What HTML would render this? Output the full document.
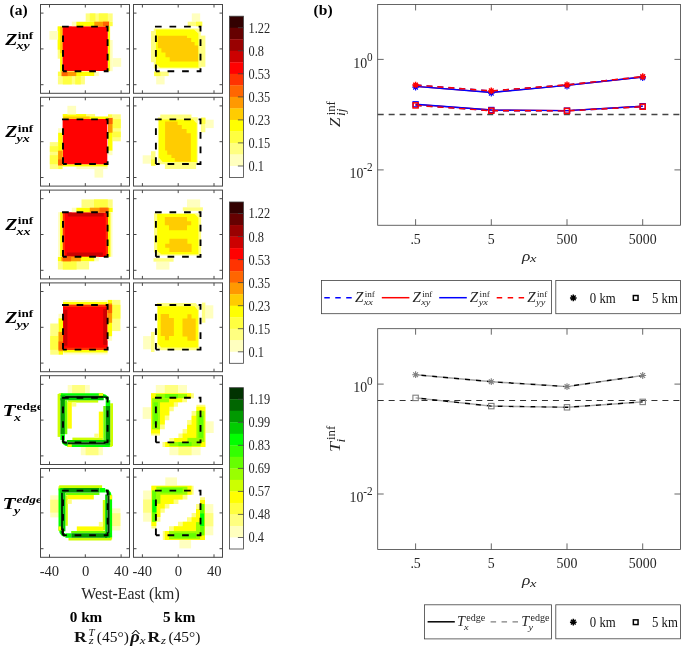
<!DOCTYPE html>
<html><head><meta charset="utf-8"><title>figure</title><style>html,body{margin:0;padding:0;background:#fff}body{width:685px;height:650px;overflow:hidden}</style></head><body>
<svg width="685" height="650" viewBox="0 0 685 650" style="display:block;font-family:'Liberation Serif',serif">
<defs><filter id="bl" x="-5%" y="-5%" width="110%" height="110%"><feGaussianBlur stdDeviation="0.65"/></filter></defs>
<rect width="685" height="650" fill="#fff"/>
<g opacity="0.999">
<g filter="url(#bl)">
<polygon fill="#FFFF80" points="57.7,26.4 60.4,26.4 60.4,58.7 57.7,58.7"/>
<polygon fill="#FFFF00" points="57.7,26.4 60.4,26.4 60.4,49.7 57.7,49.7"/>
<polygon fill="#FFFF00" points="60.1,26.4 62.6,26.4 62.6,71.8 60.1,71.8"/>
<polygon fill="#FFCC00" points="60.1,26.8 62.6,26.8 62.6,53.2 60.1,53.2"/>
<polygon fill="#FFFFBF" points="110.1,40.0 112.7,40.0 112.7,71.2 110.1,71.2"/>
<polygon fill="#FFFF00" points="107.8,26.2 110.1,26.2 110.1,71.2 107.8,71.2"/>
<polygon fill="#FF0000" points="62.6,26.2 107.8,26.2 107.8,70.9 62.6,70.9"/>
<polygon fill="#FFFF80" points="85.7,13.4 112.7,13.4 112.7,21.7 85.7,21.7"/>
<polygon fill="#FFFF80" points="84.9,84.4 57.9,84.4 57.9,76.1 84.9,76.1"/>
<polygon fill="#FFFF40" points="89.8,13.4 95.4,13.4 95.4,21.7 89.8,21.7"/>
<polygon fill="#FFFF40" points="80.8,84.4 75.2,84.4 75.2,76.1 80.8,76.1"/>
<polygon fill="#FFFF40" points="98.8,13.4 107.8,13.4 107.8,21.7 98.8,21.7"/>
<polygon fill="#FFFF40" points="71.8,84.4 62.8,84.4 62.8,76.1 71.8,76.1"/>
<polygon fill="#FFFFBF" points="71.8,21.7 76.3,21.7 76.3,26.2 71.8,26.2"/>
<polygon fill="#FFFFBF" points="98.8,76.1 94.3,76.1 94.3,71.6 98.8,71.6"/>
<polygon fill="#FFFF00" points="76.3,21.7 109.2,21.7 109.2,26.2 76.3,26.2"/>
<polygon fill="#FFFF00" points="94.3,76.1 61.4,76.1 61.4,71.6 94.3,71.6"/>
<polygon fill="#FF9900" points="94.3,21.7 109.2,21.7 109.2,26.2 94.3,26.2"/>
<polygon fill="#FF9900" points="76.3,76.1 61.4,76.1 61.4,71.6 76.3,71.6"/>
<polygon fill="#FF6600" points="103.0,21.7 109.2,21.7 109.2,26.2 103.0,26.2"/>
<polygon fill="#FF6600" points="67.6,76.1 61.4,76.1 61.4,71.6 67.6,71.6"/>
<polygon fill="#FFFF40" points="109.2,21.7 112.7,21.7 112.7,26.2 109.2,26.2"/>
<polygon fill="#FFFF40" points="61.4,76.1 57.9,76.1 57.9,71.6 61.4,71.6"/>
<polygon fill="#FFFFBF" points="49.4,31.0 58.1,31.0 58.1,39.7 49.4,39.7"/>
<polygon fill="#FFFFBF" points="121.2,66.8 112.5,66.8 112.5,58.1 121.2,58.1"/>
</g>
<path d="M63.0 71.2V26.6H107.6V71.2H63.0" fill="none" stroke="#000" stroke-width="1.9" stroke-dasharray="6.7 7.85"/>
<rect x="40.5" y="4.5" width="89.0" height="88.8" fill="none" stroke="#484848" stroke-width="1"/>
<path d="M49.5 4.5v3M49.5 93.3v-3M40.5 13.1h3M129.5 13.1h-3M85.3 4.5v3M85.3 93.3v-3M40.5 48.9h3M129.5 48.9h-3M121.1 4.5v3M121.1 93.3v-3M40.5 84.7h3M129.5 84.7h-3" stroke="#484848" stroke-width="1" fill="none"/>
<g filter="url(#bl)">
<polygon fill="#FFFF80" points="153.8,28.6 200.8,28.6 200.8,68.4 153.8,68.4"/>
<polygon fill="#FFFF00" points="155.8,29.6 193.9,29.6 198.4,33.4 198.4,67.4 160.0,67.4 155.8,63.5"/>
<polygon fill="#FFCC00" points="157.9,35.8 187.0,35.8 187.0,37.9 191.2,37.9 191.2,42.1 194.6,42.1 194.6,45.5 198.1,45.5 198.1,61.5 169.7,61.5 169.7,57.3 165.5,57.3 165.5,52.5 161.4,52.5 161.4,48.3 157.9,48.3"/>
<polygon fill="#FFFF80" points="151.0,31.0 155.8,31.0 155.8,62.2 151.0,62.2"/>
<polygon fill="#FFFF80" points="205.4,66.8 200.6,66.8 200.6,35.6 205.4,35.6"/>
<polygon fill="#FFFFBF" points="191.8,13.4 200.2,13.4 200.2,21.7 191.8,21.7"/>
<polygon fill="#FFFFBF" points="164.6,84.4 156.2,84.4 156.2,76.1 164.6,76.1"/>
<polygon fill="#FFFF80" points="187.7,21.7 202.2,21.7 202.2,26.2 187.7,26.2"/>
<polygon fill="#FFFF80" points="168.7,76.1 154.2,76.1 154.2,71.6 168.7,71.6"/>
<polygon fill="#FFFF40" points="196.0,21.7 202.2,21.7 202.2,26.2 196.0,26.2"/>
<polygon fill="#FFFF40" points="160.4,76.1 154.2,76.1 154.2,71.6 160.4,71.6"/>
</g>
<path d="M155.9 71.2V26.6H200.5V71.2H155.9" fill="none" stroke="#000" stroke-width="1.9" stroke-dasharray="6.7 7.85"/>
<rect x="133.5" y="4.5" width="89.0" height="88.8" fill="none" stroke="#484848" stroke-width="1"/>
<path d="M142.4 4.5v3M142.4 93.3v-3M133.5 13.1h3M222.5 13.1h-3M178.2 4.5v3M178.2 93.3v-3M133.5 48.9h3M222.5 48.9h-3M214.0 4.5v3M214.0 93.3v-3M133.5 84.7h3M222.5 84.7h-3" stroke="#484848" stroke-width="1" fill="none"/>
<g filter="url(#bl)">
<polygon fill="#FFFF80" points="62.8,114.1 62.8,116.8 95.1,116.8 95.1,114.1"/>
<polygon fill="#FFFF00" points="62.8,114.1 62.8,116.8 86.1,116.8 86.1,114.1"/>
<polygon fill="#FFFF00" points="62.8,116.5 62.8,119.0 108.2,119.0 108.2,116.5"/>
<polygon fill="#FFCC00" points="63.2,116.5 63.2,119.0 89.6,119.0 89.6,116.5"/>
<polygon fill="#FFFFBF" points="76.4,166.5 76.4,169.1 107.6,169.1 107.6,166.5"/>
<polygon fill="#FFFF00" points="62.6,164.2 62.6,166.5 107.6,166.5 107.6,164.2"/>
<polygon fill="#FF0000" points="62.6,119.0 62.6,164.2 107.3,164.2 107.3,119.0"/>
<polygon fill="#FFFF80" points="49.8,142.1 49.8,169.1 58.1,169.1 58.1,142.1"/>
<polygon fill="#FFFF80" points="120.8,141.3 120.8,114.3 112.5,114.3 112.5,141.3"/>
<polygon fill="#FFFF40" points="49.8,146.2 49.8,151.8 58.1,151.8 58.1,146.2"/>
<polygon fill="#FFFF40" points="120.8,137.2 120.8,131.6 112.5,131.6 112.5,137.2"/>
<polygon fill="#FFFF40" points="49.8,155.2 49.8,164.2 58.1,164.2 58.1,155.2"/>
<polygon fill="#FFFF40" points="120.8,128.2 120.8,119.2 112.5,119.2 112.5,128.2"/>
<polygon fill="#FFFFBF" points="58.1,128.2 58.1,132.7 62.6,132.7 62.6,128.2"/>
<polygon fill="#FFFFBF" points="112.5,155.2 112.5,150.7 108.0,150.7 108.0,155.2"/>
<polygon fill="#FFFF00" points="58.1,132.7 58.1,165.6 62.6,165.6 62.6,132.7"/>
<polygon fill="#FFFF00" points="112.5,150.7 112.5,117.8 108.0,117.8 108.0,150.7"/>
<polygon fill="#FF9900" points="58.1,150.7 58.1,165.6 62.6,165.6 62.6,150.7"/>
<polygon fill="#FF9900" points="112.5,132.7 112.5,117.8 108.0,117.8 108.0,132.7"/>
<polygon fill="#FF6600" points="58.1,159.4 58.1,165.6 62.6,165.6 62.6,159.4"/>
<polygon fill="#FF6600" points="112.5,124.0 112.5,117.8 108.0,117.8 108.0,124.0"/>
<polygon fill="#FFFF40" points="58.1,165.6 58.1,169.1 62.6,169.1 62.6,165.6"/>
<polygon fill="#FFFF40" points="112.5,117.8 112.5,114.3 108.0,114.3 108.0,117.8"/>
<polygon fill="#FFFFBF" points="67.4,105.8 67.4,114.5 76.1,114.5 76.1,105.8"/>
<polygon fill="#FFFFBF" points="103.2,177.6 103.2,168.9 94.5,168.9 94.5,177.6"/>
</g>
<path d="M63.0 164.0V119.4H107.6V164.0H63.0" fill="none" stroke="#000" stroke-width="1.9" stroke-dasharray="6.7 7.85"/>
<rect x="40.5" y="97.3" width="89.0" height="88.8" fill="none" stroke="#484848" stroke-width="1"/>
<path d="M49.5 97.3v3M49.5 186.1v-3M40.5 105.9h3M129.5 105.9h-3M85.3 97.3v3M85.3 186.1v-3M40.5 141.7h3M129.5 141.7h-3M121.1 97.3v3M121.1 186.1v-3M40.5 177.5h3M129.5 177.5h-3" stroke="#484848" stroke-width="1" fill="none"/>
<g filter="url(#bl)">
<polygon fill="#FFFF80" points="157.9,117.3 157.9,164.3 197.7,164.3 197.7,117.3"/>
<polygon fill="#FFFF00" points="158.9,119.3 158.9,157.4 162.7,161.9 196.7,161.9 196.7,123.5 192.8,119.3"/>
<polygon fill="#FFCC00" points="165.1,121.4 165.1,150.5 167.2,150.5 167.2,154.7 171.4,154.7 171.4,158.1 174.8,158.1 174.8,161.6 190.8,161.6 190.8,133.2 186.6,133.2 186.6,129.0 181.8,129.0 181.8,124.9 177.6,124.9 177.6,121.4"/>
<polygon fill="#FFFF80" points="160.3,114.5 160.3,119.3 191.5,119.3 191.5,114.5"/>
<polygon fill="#FFFF80" points="196.1,168.9 196.1,164.1 164.9,164.1 164.9,168.9"/>
<polygon fill="#FFFFBF" points="142.7,155.3 142.7,163.7 151.0,163.7 151.0,155.3"/>
<polygon fill="#FFFFBF" points="213.7,128.1 213.7,119.7 205.4,119.7 205.4,128.1"/>
<polygon fill="#FFFF80" points="151.0,151.2 151.0,165.7 155.5,165.7 155.5,151.2"/>
<polygon fill="#FFFF80" points="205.4,132.2 205.4,117.7 200.9,117.7 200.9,132.2"/>
<polygon fill="#FFFF40" points="151.0,159.5 151.0,165.7 155.5,165.7 155.5,159.5"/>
<polygon fill="#FFFF40" points="205.4,123.9 205.4,117.7 200.9,117.7 200.9,123.9"/>
</g>
<path d="M155.9 164.0V119.4H200.5V164.0H155.9" fill="none" stroke="#000" stroke-width="1.9" stroke-dasharray="6.7 7.85"/>
<rect x="133.5" y="97.3" width="89.0" height="88.8" fill="none" stroke="#484848" stroke-width="1"/>
<path d="M142.4 97.3v3M142.4 186.1v-3M133.5 105.9h3M222.5 105.9h-3M178.2 97.3v3M178.2 186.1v-3M133.5 141.7h3M222.5 141.7h-3M214.0 97.3v3M214.0 186.1v-3M133.5 177.5h3M222.5 177.5h-3" stroke="#484848" stroke-width="1" fill="none"/>
<g filter="url(#bl)">
<polygon fill="#FF0000" points="62.6,212.2 107.8,212.2 107.8,256.9 62.6,256.9"/>
<polygon fill="#CC0000" points="67.7,212.8 103.7,212.8 103.7,216.6 67.7,216.6"/>
<polygon fill="#CC0000" points="102.9,256.2 66.9,256.2 66.9,252.4 102.9,252.4"/>
<polygon fill="#FF3300" points="62.6,212.8 64.9,212.8 64.9,256.5 62.6,256.5"/>
<polygon fill="#FF3300" points="108.0,256.2 105.7,256.2 105.7,212.5 108.0,212.5"/>
<polygon fill="#FFFF80" points="81.5,199.4 112.7,199.4 112.7,207.7 81.5,207.7"/>
<polygon fill="#FFFF80" points="89.1,269.6 57.9,269.6 57.9,261.3 89.1,261.3"/>
<polygon fill="#FFFF40" points="94.0,199.4 107.8,199.4 107.8,207.7 94.0,207.7"/>
<polygon fill="#FFFF40" points="76.6,269.6 62.8,269.6 62.8,261.3 76.6,261.3"/>
<polygon fill="#FFFFBF" points="71.8,207.7 76.3,207.7 76.3,212.2 71.8,212.2"/>
<polygon fill="#FFFFBF" points="98.8,261.3 94.3,261.3 94.3,256.8 98.8,256.8"/>
<polygon fill="#FFFF00" points="76.3,207.7 112.7,207.7 112.7,212.2 76.3,212.2"/>
<polygon fill="#FFFF00" points="94.3,261.3 57.9,261.3 57.9,256.8 94.3,256.8"/>
<polygon fill="#FF9900" points="89.8,207.7 109.2,207.7 109.2,212.2 89.8,212.2"/>
<polygon fill="#FF9900" points="80.8,261.3 61.4,261.3 61.4,256.8 80.8,256.8"/>
<polygon fill="#FF6600" points="99.5,207.7 107.8,207.7 107.8,212.2 99.5,212.2"/>
<polygon fill="#FF6600" points="71.1,261.3 62.8,261.3 62.8,256.8 71.1,256.8"/>
<polygon fill="#FFFFBF" points="58.1,212.2 60.4,212.2 60.4,256.5 58.1,256.5"/>
<polygon fill="#FFFFBF" points="112.5,256.8 110.2,256.8 110.2,212.5 112.5,212.5"/>
<polygon fill="#FFFF00" points="60.1,212.2 62.6,212.2 62.6,256.5 60.1,256.5"/>
<polygon fill="#FFFF00" points="110.5,256.8 108.0,256.8 108.0,212.5 110.5,212.5"/>
</g>
<path d="M63.0 256.8V212.2H107.6V256.8H63.0" fill="none" stroke="#000" stroke-width="1.9" stroke-dasharray="6.7 7.85"/>
<rect x="40.5" y="190.1" width="89.0" height="88.8" fill="none" stroke="#484848" stroke-width="1"/>
<path d="M49.5 190.1v3M49.5 278.9v-3M40.5 198.7h3M129.5 198.7h-3M85.3 190.1v3M85.3 278.9v-3M40.5 234.5h3M129.5 234.5h-3M121.1 190.1v3M121.1 278.9v-3M40.5 270.3h3M129.5 270.3h-3" stroke="#484848" stroke-width="1" fill="none"/>
<g filter="url(#bl)">
<polygon fill="#FFFF80" points="154.0,213.3 197.8,213.3 201.1,216.6 201.1,255.4 157.6,255.4 154.0,252.0"/>
<polygon fill="#FFFF00" points="157.2,214.1 194.6,214.1 198.4,217.7 198.4,254.2 161.4,254.2 157.2,250.9"/>
<polygon fill="#FFCC00" points="164.8,217.0 187.0,217.0 187.0,221.2 191.2,221.2 191.2,225.3 187.0,225.3 187.0,230.2 169.0,230.2 169.0,225.3 164.8,225.3"/>
<polygon fill="#FFCC00" points="191.6,252.0 169.4,252.0 169.4,247.8 165.2,247.8 165.2,243.7 169.4,243.7 169.4,238.8 187.4,238.8 187.4,243.7 191.6,243.7"/>
<polygon fill="#FFFFBF" points="187.0,199.4 200.2,199.4 200.2,207.3 187.0,207.3"/>
<polygon fill="#FFFFBF" points="169.4,269.6 156.2,269.6 156.2,261.7 169.4,261.7"/>
<polygon fill="#FFFF80" points="182.8,207.3 202.9,207.3 202.9,210.8 182.8,210.8"/>
<polygon fill="#FFFF80" points="173.6,261.7 153.5,261.7 153.5,258.2 173.6,258.2"/>
</g>
<path d="M155.9 256.8V212.2H200.5V256.8H155.9" fill="none" stroke="#000" stroke-width="1.9" stroke-dasharray="6.7 7.85"/>
<rect x="133.5" y="190.1" width="89.0" height="88.8" fill="none" stroke="#484848" stroke-width="1"/>
<path d="M142.4 190.1v3M142.4 278.9v-3M133.5 198.7h3M222.5 198.7h-3M178.2 190.1v3M178.2 278.9v-3M133.5 234.5h3M222.5 234.5h-3M214.0 190.1v3M214.0 278.9v-3M133.5 270.3h3M222.5 270.3h-3" stroke="#484848" stroke-width="1" fill="none"/>
<g filter="url(#bl)">
<polygon fill="#FF0000" points="63.0,304.6 63.0,349.8 107.7,349.8 107.7,304.6"/>
<polygon fill="#CC0000" points="63.6,309.7 63.6,345.7 67.4,345.7 67.4,309.7"/>
<polygon fill="#CC0000" points="107.0,344.9 107.0,308.9 103.2,308.9 103.2,344.9"/>
<polygon fill="#FF3300" points="63.6,304.6 63.6,306.9 107.3,306.9 107.3,304.6"/>
<polygon fill="#FF3300" points="107.0,350.0 107.0,347.7 63.3,347.7 63.3,350.0"/>
<polygon fill="#FFFF80" points="50.2,323.5 50.2,354.7 58.5,354.7 58.5,323.5"/>
<polygon fill="#FFFF80" points="120.4,331.1 120.4,299.9 112.1,299.9 112.1,331.1"/>
<polygon fill="#FFFF40" points="50.2,336.0 50.2,349.8 58.5,349.8 58.5,336.0"/>
<polygon fill="#FFFF40" points="120.4,318.6 120.4,304.8 112.1,304.8 112.1,318.6"/>
<polygon fill="#FFFFBF" points="58.5,313.8 58.5,318.3 63.0,318.3 63.0,313.8"/>
<polygon fill="#FFFFBF" points="112.1,340.8 112.1,336.3 107.6,336.3 107.6,340.8"/>
<polygon fill="#FFFF00" points="58.5,318.3 58.5,354.7 63.0,354.7 63.0,318.3"/>
<polygon fill="#FFFF00" points="112.1,336.3 112.1,299.9 107.6,299.9 107.6,336.3"/>
<polygon fill="#FF9900" points="58.5,331.8 58.5,351.2 63.0,351.2 63.0,331.8"/>
<polygon fill="#FF9900" points="112.1,322.8 112.1,303.4 107.6,303.4 107.6,322.8"/>
<polygon fill="#FF6600" points="58.5,341.5 58.5,349.8 63.0,349.8 63.0,341.5"/>
<polygon fill="#FF6600" points="112.1,313.1 112.1,304.8 107.6,304.8 107.6,313.1"/>
<polygon fill="#FFFFBF" points="63.0,300.1 63.0,302.4 107.3,302.4 107.3,300.1"/>
<polygon fill="#FFFFBF" points="107.6,354.5 107.6,352.2 63.3,352.2 63.3,354.5"/>
<polygon fill="#FFFF00" points="63.0,302.1 63.0,304.6 107.3,304.6 107.3,302.1"/>
<polygon fill="#FFFF00" points="107.6,352.5 107.6,350.0 63.3,350.0 63.3,352.5"/>
</g>
<path d="M63.0 349.6V305.0H107.6V349.6H63.0" fill="none" stroke="#000" stroke-width="1.9" stroke-dasharray="6.7 7.85"/>
<rect x="40.5" y="282.9" width="89.0" height="88.8" fill="none" stroke="#484848" stroke-width="1"/>
<path d="M49.5 282.9v3M49.5 371.7v-3M40.5 291.5h3M129.5 291.5h-3M85.3 282.9v3M85.3 371.7v-3M40.5 327.3h3M129.5 327.3h-3M121.1 282.9v3M121.1 371.7v-3M40.5 363.1h3M129.5 363.1h-3" stroke="#484848" stroke-width="1" fill="none"/>
<g filter="url(#bl)">
<polygon fill="#FFFF80" points="157.0,303.1 157.0,346.9 160.3,350.2 199.1,350.2 199.1,306.7 195.7,303.1"/>
<polygon fill="#FFFF00" points="157.8,306.3 157.8,343.7 161.4,347.5 197.9,347.5 197.9,310.5 194.6,306.3"/>
<polygon fill="#FFCC00" points="160.7,313.9 160.7,336.1 164.9,336.1 164.9,340.3 169.0,340.3 169.0,336.1 173.9,336.1 173.9,318.1 169.0,318.1 169.0,313.9"/>
<polygon fill="#FFCC00" points="195.7,340.7 195.7,318.5 191.5,318.5 191.5,314.3 187.4,314.3 187.4,318.5 182.5,318.5 182.5,336.5 187.4,336.5 187.4,340.7"/>
<polygon fill="#FFFFBF" points="143.1,336.1 143.1,349.3 151.0,349.3 151.0,336.1"/>
<polygon fill="#FFFFBF" points="213.3,318.5 213.3,305.3 205.4,305.3 205.4,318.5"/>
<polygon fill="#FFFF80" points="151.0,331.9 151.0,352.0 154.5,352.0 154.5,331.9"/>
<polygon fill="#FFFF80" points="205.4,322.7 205.4,302.6 201.9,302.6 201.9,322.7"/>
</g>
<path d="M155.9 349.6V305.0H200.5V349.6H155.9" fill="none" stroke="#000" stroke-width="1.9" stroke-dasharray="6.7 7.85"/>
<rect x="133.5" y="282.9" width="89.0" height="88.8" fill="none" stroke="#484848" stroke-width="1"/>
<path d="M142.4 282.9v3M142.4 371.7v-3M133.5 291.5h3M222.5 291.5h-3M178.2 282.9v3M178.2 371.7v-3M133.5 327.3h3M222.5 327.3h-3M214.0 282.9v3M214.0 371.7v-3M133.5 363.1h3M222.5 363.1h-3" stroke="#484848" stroke-width="1" fill="none"/>
<g filter="url(#bl)">
<polygon fill="#FFFFBF" points="67.7,385.0 89.8,385.0 89.8,393.6 67.7,393.6"/>
<polygon fill="#FFFFBF" points="102.9,455.2 80.8,455.2 80.8,446.6 102.9,446.6"/>
<polygon fill="#FFFF80" points="72.1,385.0 85.0,385.0 85.0,393.6 72.1,393.6"/>
<polygon fill="#FFFF80" points="98.5,455.2 85.6,455.2 85.6,446.6 98.5,446.6"/>
<polygon fill="#CCFF00" points="58.7,393.3 62.8,393.3 62.8,395.7 58.7,395.7"/>
<polygon fill="#CCFF00" points="111.9,446.9 107.8,446.9 107.8,444.5 111.9,444.5"/>
<polygon fill="#00FF00" points="60.8,393.3 103.0,393.3 103.0,395.7 60.8,395.7"/>
<polygon fill="#00FF00" points="109.8,446.9 67.6,446.9 67.6,444.5 109.8,444.5"/>
<polygon fill="#CCFF00" points="67.7,400.2 98.2,400.2 98.2,402.6 67.7,402.6"/>
<polygon fill="#CCFF00" points="102.9,440.0 72.4,440.0 72.4,437.6 102.9,437.6"/>
<polygon fill="#00CC00" points="64.9,397.9 103.7,397.9 103.7,400.2 64.9,400.2"/>
<polygon fill="#00CC00" points="105.7,442.3 66.9,442.3 66.9,440.0 105.7,440.0"/>
<polygon fill="#003300" points="63.1,395.7 103.0,395.7 103.0,397.9 63.1,397.9"/>
<polygon fill="#003300" points="107.5,444.5 67.6,444.5 67.6,442.3 107.5,442.3"/>
<polygon fill="#FFFF00" points="98.8,393.3 103.4,393.3 103.4,395.7 98.8,395.7"/>
<polygon fill="#FFFF00" points="71.8,446.9 67.2,446.9 67.2,444.5 71.8,444.5"/>
<polygon fill="#00FF00" points="103.0,394.0 105.4,394.4 108.4,396.8 109.1,399.8 105.4,399.8 105.4,397.9 103.0,397.9"/>
<polygon fill="#00FF00" points="67.6,446.2 65.2,445.8 62.2,443.4 61.5,440.4 65.2,440.4 65.2,442.3 67.6,442.3"/>
<polygon fill="#006600" points="103.0,395.7 105.1,395.7 107.6,397.0 108.1,399.5 106.2,399.5 105.8,397.9 103.0,397.9"/>
<polygon fill="#006600" points="67.6,444.5 65.5,444.5 63.0,443.2 62.5,440.7 64.4,440.7 64.8,442.3 67.6,442.3"/>
<polygon fill="#CCFF00" points="57.6,394.0 60.4,394.0 60.4,436.9 57.6,436.9"/>
<polygon fill="#CCFF00" points="113.0,446.2 110.2,446.2 110.2,403.3 113.0,403.3"/>
<polygon fill="#00CC00" points="60.4,395.1 65.2,395.1 65.2,400.4 60.4,400.4"/>
<polygon fill="#00CC00" points="110.2,445.1 105.4,445.1 105.4,439.8 110.2,439.8"/>
<polygon fill="#FFFF80" points="72.1,402.3 76.3,402.3 76.3,406.6 72.1,406.6"/>
<polygon fill="#FFFF80" points="98.5,437.9 94.3,437.9 94.3,433.6 98.5,433.6"/>
<polygon fill="#FFFF00" points="67.3,402.3 71.8,402.3 71.8,428.6 67.3,428.6"/>
<polygon fill="#FFFF00" points="103.3,437.9 98.8,437.9 98.8,411.6 103.3,411.6"/>
<polygon fill="#66FF00" points="64.9,400.2 67.3,400.2 67.3,434.2 64.9,434.2"/>
<polygon fill="#66FF00" points="105.7,440.0 103.3,440.0 103.3,406.0 105.7,406.0"/>
<polygon fill="#009900" points="60.4,398.2 64.9,398.2 64.9,434.2 60.4,434.2"/>
<polygon fill="#009900" points="110.2,442.0 105.7,442.0 105.7,406.0 110.2,406.0"/>
<polygon fill="#00FF00" points="60.4,434.2 64.9,434.2 64.9,440.0 60.4,440.0"/>
<polygon fill="#00FF00" points="110.2,406.0 105.7,406.0 105.7,400.2 110.2,400.2"/>
</g>
<path d="M63.0 442.4V397.8H107.6V442.4H63.0" fill="none" stroke="#000" stroke-width="1.9" stroke-dasharray="6.7 7.85"/>
<rect x="40.5" y="375.7" width="89.0" height="88.8" fill="none" stroke="#484848" stroke-width="1"/>
<path d="M49.5 375.7v3M49.5 464.5v-3M40.5 384.3h3M129.5 384.3h-3M85.3 375.7v3M85.3 464.5v-3M40.5 420.1h3M129.5 420.1h-3M121.1 375.7v3M121.1 464.5v-3M40.5 455.9h3M129.5 455.9h-3" stroke="#484848" stroke-width="1" fill="none"/>
<g filter="url(#bl)">
<polygon fill="#FFFFBF" points="155.8,385.0 187.0,385.0 187.0,393.3 155.8,393.3"/>
<polygon fill="#FFFFBF" points="200.6,455.2 169.4,455.2 169.4,446.9 200.6,446.9"/>
<polygon fill="#FFFF80" points="164.8,385.0 178.0,385.0 178.0,393.3 164.8,393.3"/>
<polygon fill="#FFFF80" points="191.6,455.2 178.4,455.2 178.4,446.9 191.6,446.9"/>
<polygon fill="#FFFFBF" points="142.7,407.2 151.0,407.2 151.0,418.9 142.7,418.9"/>
<polygon fill="#FFFFBF" points="213.7,433.0 205.4,433.0 205.4,421.3 213.7,421.3"/>
<polygon fill="#FFFF80" points="151.0,393.3 193.9,393.3 193.9,398.2 187.0,398.2 187.0,402.3 178.0,402.3 178.0,406.7 173.8,406.7 173.8,411.3 169.3,411.3 169.3,420.3 164.8,420.3 164.8,429.3 160.0,429.3 160.0,435.5 151.0,435.5"/>
<polygon fill="#FFFF80" points="205.4,446.9 162.5,446.9 162.5,442.0 169.4,442.0 169.4,437.9 178.4,437.9 178.4,433.5 182.6,433.5 182.6,428.9 187.1,428.9 187.1,419.9 191.6,419.9 191.6,410.9 196.4,410.9 196.4,404.7 205.4,404.7"/>
<polygon fill="#FFFF00" points="151.0,393.3 191.2,393.3 191.2,398.2 182.2,398.2 182.2,402.3 173.8,402.3 173.8,406.7 169.3,406.7 169.3,415.5 164.8,415.5 164.8,424.5 160.0,424.5 160.0,433.5 151.0,433.5"/>
<polygon fill="#FFFF00" points="205.4,446.9 165.2,446.9 165.2,442.0 174.2,442.0 174.2,437.9 182.6,437.9 182.6,433.5 187.1,433.5 187.1,424.7 191.6,424.7 191.6,415.7 196.4,415.7 196.4,406.7 205.4,406.7"/>
<polygon fill="#99FF00" points="155.8,394.0 187.0,394.0 187.0,398.2 155.8,398.2"/>
<polygon fill="#99FF00" points="200.6,446.2 169.4,446.2 169.4,442.0 200.6,442.0"/>
<polygon fill="#66FF00" points="164.8,394.0 178.0,394.0 178.0,398.2 164.8,398.2"/>
<polygon fill="#66FF00" points="191.6,446.2 178.4,446.2 178.4,442.0 191.6,442.0"/>
<polygon fill="#99FF00" points="155.8,398.2 169.0,398.2 169.0,402.3 155.8,402.3"/>
<polygon fill="#99FF00" points="200.6,442.0 187.4,442.0 187.4,437.9 200.6,437.9"/>
<polygon fill="#99FF00" points="152.0,398.2 160.0,398.2 160.0,429.3 152.0,429.3"/>
<polygon fill="#99FF00" points="204.4,442.0 196.4,442.0 196.4,410.9 204.4,410.9"/>
<polygon fill="#66FF00" points="153.4,402.3 157.9,402.3 157.9,424.5 153.4,424.5"/>
<polygon fill="#66FF00" points="203.0,437.9 198.5,437.9 198.5,415.7 203.0,415.7"/>
</g>
<path d="M155.9 442.4V397.8H200.5V442.4H155.9" fill="none" stroke="#000" stroke-width="1.9" stroke-dasharray="6.7 7.85"/>
<rect x="133.5" y="375.7" width="89.0" height="88.8" fill="none" stroke="#484848" stroke-width="1"/>
<path d="M142.4 375.7v3M142.4 464.5v-3M133.5 384.3h3M222.5 384.3h-3M178.2 375.7v3M178.2 464.5v-3M133.5 420.1h3M222.5 420.1h-3M214.0 375.7v3M214.0 464.5v-3M133.5 455.9h3M222.5 455.9h-3" stroke="#484848" stroke-width="1" fill="none"/>
<g filter="url(#bl)">
<polygon fill="#FFFFBF" points="50.2,495.3 50.2,517.4 58.8,517.4 58.8,495.3"/>
<polygon fill="#FFFFBF" points="120.4,530.5 120.4,508.4 111.8,508.4 111.8,530.5"/>
<polygon fill="#FFFF80" points="50.2,499.7 50.2,512.6 58.8,512.6 58.8,499.7"/>
<polygon fill="#FFFF80" points="120.4,526.1 120.4,513.2 111.8,513.2 111.8,526.1"/>
<polygon fill="#CCFF00" points="58.5,486.3 58.5,490.4 60.9,490.4 60.9,486.3"/>
<polygon fill="#CCFF00" points="112.1,539.5 112.1,535.4 109.7,535.4 109.7,539.5"/>
<polygon fill="#00FF00" points="58.5,488.4 58.5,530.6 60.9,530.6 60.9,488.4"/>
<polygon fill="#00FF00" points="112.1,537.4 112.1,495.2 109.7,495.2 109.7,537.4"/>
<polygon fill="#CCFF00" points="65.4,495.3 65.4,525.8 67.8,525.8 67.8,495.3"/>
<polygon fill="#CCFF00" points="105.2,530.5 105.2,500.0 102.8,500.0 102.8,530.5"/>
<polygon fill="#00CC00" points="63.1,492.5 63.1,531.3 65.4,531.3 65.4,492.5"/>
<polygon fill="#00CC00" points="107.5,533.3 107.5,494.5 105.2,494.5 105.2,533.3"/>
<polygon fill="#003300" points="60.9,490.7 60.9,530.6 63.1,530.6 63.1,490.7"/>
<polygon fill="#003300" points="109.7,535.1 109.7,495.2 107.5,495.2 107.5,535.1"/>
<polygon fill="#FFFF00" points="58.5,526.4 58.5,531.0 60.9,531.0 60.9,526.4"/>
<polygon fill="#FFFF00" points="112.1,499.4 112.1,494.8 109.7,494.8 109.7,499.4"/>
<polygon fill="#00FF00" points="59.2,530.6 59.6,533.0 62.0,536.0 65.0,536.7 65.0,533.0 63.1,533.0 63.1,530.6"/>
<polygon fill="#00FF00" points="111.4,495.2 111.0,492.8 108.6,489.8 105.6,489.1 105.6,492.8 107.5,492.8 107.5,495.2"/>
<polygon fill="#006600" points="60.9,530.6 60.9,532.7 62.2,535.2 64.7,535.7 64.7,533.8 63.1,533.4 63.1,530.6"/>
<polygon fill="#006600" points="109.7,495.2 109.7,493.1 108.4,490.6 105.9,490.1 105.9,492.0 107.5,492.4 107.5,495.2"/>
<polygon fill="#CCFF00" points="59.2,485.2 59.2,488.0 102.1,488.0 102.1,485.2"/>
<polygon fill="#CCFF00" points="111.4,540.6 111.4,537.8 68.5,537.8 68.5,540.6"/>
<polygon fill="#00CC00" points="60.3,488.0 60.3,492.8 65.6,492.8 65.6,488.0"/>
<polygon fill="#00CC00" points="110.3,537.8 110.3,533.0 105.0,533.0 105.0,537.8"/>
<polygon fill="#FFFF80" points="67.5,499.7 67.5,503.9 71.8,503.9 71.8,499.7"/>
<polygon fill="#FFFF80" points="103.1,526.1 103.1,521.9 98.8,521.9 98.8,526.1"/>
<polygon fill="#FFFF00" points="67.5,494.9 67.5,499.4 93.8,499.4 93.8,494.9"/>
<polygon fill="#FFFF00" points="103.1,530.9 103.1,526.4 76.8,526.4 76.8,530.9"/>
<polygon fill="#66FF00" points="65.4,492.5 65.4,494.9 99.4,494.9 99.4,492.5"/>
<polygon fill="#66FF00" points="105.2,533.3 105.2,530.9 71.2,530.9 71.2,533.3"/>
<polygon fill="#009900" points="63.4,488.0 63.4,492.5 99.4,492.5 99.4,488.0"/>
<polygon fill="#009900" points="107.2,537.8 107.2,533.3 71.2,533.3 71.2,537.8"/>
<polygon fill="#00FF00" points="99.4,488.0 99.4,492.5 105.2,492.5 105.2,488.0"/>
<polygon fill="#00FF00" points="71.2,537.8 71.2,533.3 65.4,533.3 65.4,537.8"/>
</g>
<path d="M63.0 535.2V490.6H107.6V535.2H63.0" fill="none" stroke="#000" stroke-width="1.9" stroke-dasharray="6.7 7.85"/>
<rect x="40.5" y="468.5" width="89.0" height="88.8" fill="none" stroke="#484848" stroke-width="1"/>
<path d="M49.5 468.5v3M49.5 557.3v-3M40.5 477.1h3M129.5 477.1h-3M85.3 468.5v3M85.3 557.3v-3M40.5 512.9h3M129.5 512.9h-3M121.1 468.5v3M121.1 557.3v-3M40.5 548.7h3M129.5 548.7h-3" stroke="#484848" stroke-width="1" fill="none"/>
<g filter="url(#bl)">
<polygon fill="#FFFFBF" points="143.1,490.5 143.1,521.7 151.4,521.7 151.4,490.5"/>
<polygon fill="#FFFFBF" points="213.3,535.3 213.3,504.1 205.0,504.1 205.0,535.3"/>
<polygon fill="#FFFF80" points="143.1,499.5 143.1,512.7 151.4,512.7 151.4,499.5"/>
<polygon fill="#FFFF80" points="213.3,526.3 213.3,513.1 205.0,513.1 205.0,526.3"/>
<polygon fill="#FFFFBF" points="165.3,477.4 165.3,485.7 177.0,485.7 177.0,477.4"/>
<polygon fill="#FFFFBF" points="191.1,548.4 191.1,540.1 179.4,540.1 179.4,548.4"/>
<polygon fill="#FFFF80" points="151.4,485.7 151.4,528.6 156.3,528.6 156.3,521.7 160.4,521.7 160.4,512.7 164.8,512.7 164.8,508.5 169.4,508.5 169.4,504.0 178.4,504.0 178.4,499.5 187.4,499.5 187.4,494.7 193.6,494.7 193.6,485.7"/>
<polygon fill="#FFFF80" points="205.0,540.1 205.0,497.2 200.1,497.2 200.1,504.1 196.0,504.1 196.0,513.1 191.6,513.1 191.6,517.3 187.0,517.3 187.0,521.8 178.0,521.8 178.0,526.3 169.0,526.3 169.0,531.1 162.8,531.1 162.8,540.1"/>
<polygon fill="#FFFF00" points="151.4,485.7 151.4,525.9 156.3,525.9 156.3,516.9 160.4,516.9 160.4,508.5 164.8,508.5 164.8,504.0 173.6,504.0 173.6,499.5 182.6,499.5 182.6,494.7 191.6,494.7 191.6,485.7"/>
<polygon fill="#FFFF00" points="205.0,540.1 205.0,499.9 200.1,499.9 200.1,508.9 196.0,508.9 196.0,517.3 191.6,517.3 191.6,521.8 182.8,521.8 182.8,526.3 173.8,526.3 173.8,531.1 164.8,531.1 164.8,540.1"/>
<polygon fill="#99FF00" points="152.1,490.5 152.1,521.7 156.3,521.7 156.3,490.5"/>
<polygon fill="#99FF00" points="204.3,535.3 204.3,504.1 200.1,504.1 200.1,535.3"/>
<polygon fill="#66FF00" points="152.1,499.5 152.1,512.7 156.3,512.7 156.3,499.5"/>
<polygon fill="#66FF00" points="204.3,526.3 204.3,513.1 200.1,513.1 200.1,526.3"/>
<polygon fill="#99FF00" points="156.3,490.5 156.3,503.7 160.4,503.7 160.4,490.5"/>
<polygon fill="#99FF00" points="200.1,535.3 200.1,522.1 196.0,522.1 196.0,535.3"/>
<polygon fill="#99FF00" points="156.3,486.7 156.3,494.7 187.4,494.7 187.4,486.7"/>
<polygon fill="#99FF00" points="200.1,539.1 200.1,531.1 169.0,531.1 169.0,539.1"/>
<polygon fill="#66FF00" points="160.4,488.1 160.4,492.6 182.6,492.6 182.6,488.1"/>
<polygon fill="#66FF00" points="196.0,537.7 196.0,533.2 173.8,533.2 173.8,537.7"/>
<polygon fill="#66FF00" points="152.1,490.5 152.1,521.7 156.3,521.7 156.3,490.5"/>
<polygon fill="#66FF00" points="204.3,535.3 204.3,504.1 200.1,504.1 200.1,535.3"/>
<polygon fill="#00FF00" points="152.4,499.8 152.4,512.3 156.3,512.3 156.3,499.8"/>
<polygon fill="#00FF00" points="204.0,526.0 204.0,513.5 200.1,513.5 200.1,526.0"/>
</g>
<path d="M155.9 535.2V490.6H200.5V535.2H155.9" fill="none" stroke="#000" stroke-width="1.9" stroke-dasharray="6.7 7.85"/>
<rect x="133.5" y="468.5" width="89.0" height="88.8" fill="none" stroke="#484848" stroke-width="1"/>
<path d="M142.4 468.5v3M142.4 557.3v-3M133.5 477.1h3M222.5 477.1h-3M178.2 468.5v3M178.2 557.3v-3M133.5 512.9h3M222.5 512.9h-3M214.0 468.5v3M214.0 557.3v-3M133.5 548.7h3M222.5 548.7h-3" stroke="#484848" stroke-width="1" fill="none"/>
<text x="49.4" y="576.3" font-size="14.6" text-anchor="middle" fill="#262626">-40</text>
<text x="85.6" y="576.3" font-size="14.6" text-anchor="middle" fill="#262626">0</text>
<text x="121.4" y="576.3" font-size="14.6" text-anchor="middle" fill="#262626">40</text>
<text x="142.3" y="576.3" font-size="14.6" text-anchor="middle" fill="#262626">-40</text>
<text x="178.5" y="576.3" font-size="14.6" text-anchor="middle" fill="#262626">0</text>
<text x="214.3" y="576.3" font-size="14.6" text-anchor="middle" fill="#262626">40</text>
<text x="130.5" y="598.9" font-size="15.8" text-anchor="middle" fill="#262626">West-East (km)</text>
<text x="86.0" y="621.7" font-size="15.2" font-weight="bold" text-anchor="middle" fill="#000">0 km</text>
<text x="179.2" y="621.7" font-size="15.2" font-weight="bold" text-anchor="middle" fill="#000">5 km</text>
<text transform="translate(74.0 642.0) scale(1.14 1.0)" font-size="15.5" font-weight="bold" fill="#111">R</text>
<text transform="translate(88.6 635.8) scale(1.05 1.0)" font-size="10.5" font-style="italic" fill="#111">T</text>
<text transform="translate(88.8 644.4) scale(1.2 1.0)" font-size="10.5" font-style="italic" fill="#111">z</text>
<text x="96.8" y="642.0" font-size="15.5" fill="#111">(45°)</text>
<text transform="translate(130.2 642.0) scale(1.15 1.0)" font-size="16" font-weight="bold" font-style="italic" fill="#111">ρ</text>
<text transform="translate(135.6 636.4) scale(1.45 0.62)" font-size="13" font-weight="bold" text-anchor="middle" fill="#111">^</text>
<text transform="translate(139.8 644.4) scale(1.25 1.0)" font-size="10.5" font-style="italic" fill="#111">x</text>
<text transform="translate(147.4 642.0) scale(1.14 1.0)" font-size="15.5" font-weight="bold" fill="#111">R</text>
<text transform="translate(161.0 644.4) scale(1.2 1.0)" font-size="10.5" font-style="italic" fill="#111">z</text>
<text x="168.4" y="642.0" font-size="15.5" fill="#111">(45°)</text>
<text x="9.6" y="15.0" font-size="15.5" font-weight="bold" fill="#000">(a)</text>
<text x="313.6" y="15.0" font-size="15.5" font-weight="bold" fill="#000">(b)</text>
<text transform="translate(5.3 44.6) scale(1.2 1.0)" font-size="16.5" font-weight="bold" font-style="italic" fill="#000">Z</text>
<text transform="translate(17.8 38.8) scale(1.22 1.0)" font-size="10.8" font-weight="bold" fill="#000">inf</text>
<text transform="translate(16.6 49.2) scale(1.32 1.0)" font-size="10.6" font-weight="bold" font-style="italic" fill="#000">xy</text>
<text transform="translate(5.3 137.4) scale(1.2 1.0)" font-size="16.5" font-weight="bold" font-style="italic" fill="#000">Z</text>
<text transform="translate(17.8 131.6) scale(1.22 1.0)" font-size="10.8" font-weight="bold" fill="#000">inf</text>
<text transform="translate(16.6 142.0) scale(1.32 1.0)" font-size="10.6" font-weight="bold" font-style="italic" fill="#000">yx</text>
<text transform="translate(5.3 230.2) scale(1.2 1.0)" font-size="16.5" font-weight="bold" font-style="italic" fill="#000">Z</text>
<text transform="translate(17.8 224.4) scale(1.22 1.0)" font-size="10.8" font-weight="bold" fill="#000">inf</text>
<text transform="translate(16.6 234.8) scale(1.32 1.0)" font-size="10.6" font-weight="bold" font-style="italic" fill="#000">xx</text>
<text transform="translate(5.3 323.0) scale(1.2 1.0)" font-size="16.5" font-weight="bold" font-style="italic" fill="#000">Z</text>
<text transform="translate(17.8 317.2) scale(1.22 1.0)" font-size="10.8" font-weight="bold" fill="#000">inf</text>
<text transform="translate(16.6 327.6) scale(1.32 1.0)" font-size="10.6" font-weight="bold" font-style="italic" fill="#000">yy</text>
<clipPath id="cl"><rect x="0" y="380" width="40.3" height="180"/></clipPath>
<g clip-path="url(#cl)">
<text transform="translate(2.6 415.8) scale(1.3 1.0)" font-size="16.5" font-weight="bold" font-style="italic" fill="#000">T</text>
<text transform="translate(16.6 409.8) scale(1.3 1.0)" font-size="10.3" font-weight="bold" fill="#000">edge</text>
<text transform="translate(14.0 420.7) scale(1.32 1.0)" font-size="10.6" font-weight="bold" font-style="italic" fill="#000">x</text>
<text transform="translate(2.6 508.6) scale(1.3 1.0)" font-size="16.5" font-weight="bold" font-style="italic" fill="#000">T</text>
<text transform="translate(16.6 502.6) scale(1.3 1.0)" font-size="10.3" font-weight="bold" font-style="italic" fill="#000">edge</text>
<text transform="translate(14.0 513.5) scale(1.32 1.0)" font-size="10.6" font-weight="bold" font-style="italic" fill="#000">y</text>
</g>
<rect x="229.4" y="16.20" width="14.0" height="11.82" fill="#330000"/>
<rect x="229.4" y="27.72" width="14.0" height="11.82" fill="#660000"/>
<rect x="229.4" y="39.24" width="14.0" height="11.82" fill="#990000"/>
<rect x="229.4" y="50.76" width="14.0" height="11.82" fill="#CC0000"/>
<rect x="229.4" y="62.29" width="14.0" height="11.82" fill="#FF0000"/>
<rect x="229.4" y="73.81" width="14.0" height="11.82" fill="#FF3300"/>
<rect x="229.4" y="85.33" width="14.0" height="11.82" fill="#FF6600"/>
<rect x="229.4" y="96.85" width="14.0" height="11.82" fill="#FF9900"/>
<rect x="229.4" y="108.37" width="14.0" height="11.82" fill="#FFCC00"/>
<rect x="229.4" y="119.89" width="14.0" height="11.82" fill="#FFFF00"/>
<rect x="229.4" y="131.41" width="14.0" height="11.82" fill="#FFFF40"/>
<rect x="229.4" y="142.94" width="14.0" height="11.82" fill="#FFFF80"/>
<rect x="229.4" y="154.46" width="14.0" height="11.82" fill="#FFFFBF"/>
<rect x="229.4" y="165.98" width="14.0" height="11.82" fill="#FFFFFF"/>
<rect x="229.4" y="16.2" width="14.0" height="161.3" fill="none" stroke="#404040" stroke-width="0.8"/>
<text transform="translate(248.6 32.6) scale(0.87 1.0)" font-size="14.2" fill="#262626">1.22</text>
<text transform="translate(248.6 55.7) scale(0.87 1.0)" font-size="14.2" fill="#262626">0.8</text>
<text transform="translate(248.6 78.7) scale(0.87 1.0)" font-size="14.2" fill="#262626">0.53</text>
<text transform="translate(248.6 101.8) scale(0.87 1.0)" font-size="14.2" fill="#262626">0.35</text>
<text transform="translate(248.6 124.8) scale(0.87 1.0)" font-size="14.2" fill="#262626">0.23</text>
<text transform="translate(248.6 147.8) scale(0.87 1.0)" font-size="14.2" fill="#262626">0.15</text>
<text transform="translate(248.6 170.9) scale(0.87 1.0)" font-size="14.2" fill="#262626">0.1</text>
<path d="M243.4 27.7h-5.5M243.4 50.8h-5.5M243.4 73.8h-5.5M243.4 96.9h-5.5M243.4 119.9h-5.5M243.4 142.9h-5.5M243.4 166.0h-5.5" stroke="#404040" stroke-width="0.8"/>
<rect x="229.4" y="202.00" width="14.0" height="11.82" fill="#330000"/>
<rect x="229.4" y="213.52" width="14.0" height="11.82" fill="#660000"/>
<rect x="229.4" y="225.04" width="14.0" height="11.82" fill="#990000"/>
<rect x="229.4" y="236.56" width="14.0" height="11.82" fill="#CC0000"/>
<rect x="229.4" y="248.09" width="14.0" height="11.82" fill="#FF0000"/>
<rect x="229.4" y="259.61" width="14.0" height="11.82" fill="#FF3300"/>
<rect x="229.4" y="271.13" width="14.0" height="11.82" fill="#FF6600"/>
<rect x="229.4" y="282.65" width="14.0" height="11.82" fill="#FF9900"/>
<rect x="229.4" y="294.17" width="14.0" height="11.82" fill="#FFCC00"/>
<rect x="229.4" y="305.69" width="14.0" height="11.82" fill="#FFFF00"/>
<rect x="229.4" y="317.21" width="14.0" height="11.82" fill="#FFFF40"/>
<rect x="229.4" y="328.74" width="14.0" height="11.82" fill="#FFFF80"/>
<rect x="229.4" y="340.26" width="14.0" height="11.82" fill="#FFFFBF"/>
<rect x="229.4" y="351.78" width="14.0" height="11.82" fill="#FFFFFF"/>
<rect x="229.4" y="202.0" width="14.0" height="161.3" fill="none" stroke="#404040" stroke-width="0.8"/>
<text transform="translate(248.6 218.4) scale(0.87 1.0)" font-size="14.2" fill="#262626">1.22</text>
<text transform="translate(248.6 241.5) scale(0.87 1.0)" font-size="14.2" fill="#262626">0.8</text>
<text transform="translate(248.6 264.5) scale(0.87 1.0)" font-size="14.2" fill="#262626">0.53</text>
<text transform="translate(248.6 287.5) scale(0.87 1.0)" font-size="14.2" fill="#262626">0.35</text>
<text transform="translate(248.6 310.6) scale(0.87 1.0)" font-size="14.2" fill="#262626">0.23</text>
<text transform="translate(248.6 333.6) scale(0.87 1.0)" font-size="14.2" fill="#262626">0.15</text>
<text transform="translate(248.6 356.7) scale(0.87 1.0)" font-size="14.2" fill="#262626">0.1</text>
<path d="M243.4 213.5h-5.5M243.4 236.6h-5.5M243.4 259.6h-5.5M243.4 282.6h-5.5M243.4 305.7h-5.5M243.4 328.7h-5.5M243.4 351.8h-5.5" stroke="#404040" stroke-width="0.8"/>
<rect x="229.4" y="387.70" width="14.0" height="11.82" fill="#003300"/>
<rect x="229.4" y="399.22" width="14.0" height="11.82" fill="#006600"/>
<rect x="229.4" y="410.74" width="14.0" height="11.82" fill="#009900"/>
<rect x="229.4" y="422.26" width="14.0" height="11.82" fill="#00CC00"/>
<rect x="229.4" y="433.79" width="14.0" height="11.82" fill="#00FF00"/>
<rect x="229.4" y="445.31" width="14.0" height="11.82" fill="#33FF00"/>
<rect x="229.4" y="456.83" width="14.0" height="11.82" fill="#66FF00"/>
<rect x="229.4" y="468.35" width="14.0" height="11.82" fill="#99FF00"/>
<rect x="229.4" y="479.87" width="14.0" height="11.82" fill="#CCFF00"/>
<rect x="229.4" y="491.39" width="14.0" height="11.82" fill="#FFFF00"/>
<rect x="229.4" y="502.91" width="14.0" height="11.82" fill="#FFFF40"/>
<rect x="229.4" y="514.44" width="14.0" height="11.82" fill="#FFFF80"/>
<rect x="229.4" y="525.96" width="14.0" height="11.82" fill="#FFFFBF"/>
<rect x="229.4" y="537.48" width="14.0" height="11.82" fill="#FFFFFF"/>
<rect x="229.4" y="387.7" width="14.0" height="161.3" fill="none" stroke="#404040" stroke-width="0.8"/>
<text transform="translate(248.6 404.1) scale(0.87 1.0)" font-size="14.2" fill="#262626">1.19</text>
<text transform="translate(248.6 427.2) scale(0.87 1.0)" font-size="14.2" fill="#262626">0.99</text>
<text transform="translate(248.6 450.2) scale(0.87 1.0)" font-size="14.2" fill="#262626">0.83</text>
<text transform="translate(248.6 473.2) scale(0.87 1.0)" font-size="14.2" fill="#262626">0.69</text>
<text transform="translate(248.6 496.3) scale(0.87 1.0)" font-size="14.2" fill="#262626">0.57</text>
<text transform="translate(248.6 519.3) scale(0.87 1.0)" font-size="14.2" fill="#262626">0.48</text>
<text transform="translate(248.6 542.4) scale(0.87 1.0)" font-size="14.2" fill="#262626">0.4</text>
<path d="M243.4 399.2h-5.5M243.4 422.3h-5.5M243.4 445.3h-5.5M243.4 468.4h-5.5M243.4 491.4h-5.5M243.4 514.4h-5.5M243.4 537.5h-5.5" stroke="#404040" stroke-width="0.8"/>
<rect x="377.7" y="4.45" width="302.8" height="220.8" fill="none" stroke="#404040" stroke-width="0.8"/>
<path d="M415.6 4.45v6M415.6 225.2v-6M491.3 4.45v6M491.3 225.2v-6M567.0 4.45v6M567.0 225.2v-6M642.7 4.45v6M642.7 225.2v-6M377.7 59.4h6M680.45 59.4h-6M377.7 169.9h6M680.45 169.9h-6" stroke="#404040" stroke-width="0.8" fill="none"/>
<text transform="translate(415.6 243.8) scale(0.89 1.0)" font-size="15.6" text-anchor="middle" fill="#262626">.5</text>
<text transform="translate(491.3 243.8) scale(0.89 1.0)" font-size="15.6" text-anchor="middle" fill="#262626">5</text>
<text transform="translate(567.0 243.8) scale(0.89 1.0)" font-size="15.6" text-anchor="middle" fill="#262626">500</text>
<text transform="translate(642.7 243.8) scale(0.89 1.0)" font-size="15.6" text-anchor="middle" fill="#262626">5000</text>
<text transform="translate(372.7 67.7) scale(0.89 1.0)" font-size="15.6" text-anchor="end" fill="#262626">10<tspan font-size="12.6" dy="-7.2">0</tspan></text>
<text transform="translate(372.7 178.2) scale(0.89 1.0)" font-size="15.6" text-anchor="end" fill="#262626">10<tspan font-size="12.6" dy="-7.2">-2</tspan></text>
<text transform="translate(521.9 260.7) scale(1.12 1.0)" font-size="15.5" font-style="italic" fill="#262626">ρ</text>
<text transform="translate(529.9 262.4) scale(1.35 1.0)" font-size="10.8" font-style="italic" fill="#262626">x</text>
<path d="M377.7 114.6H680.45" stroke="#444" stroke-width="1.5" stroke-dasharray="6 4.95" fill="none"/>
<path d="M415.6 85.0L491.3 90.9L567.0 84.8L642.7 76.6" stroke="#0000FF" stroke-width="1.3" fill="none" stroke-dasharray="6 4.95"/>
<path d="M415.6 86.4L491.3 92.4L567.0 85.4L642.7 77.0" stroke="#FF0000" stroke-width="1.3" fill="none"/>
<path d="M415.6 86.4L491.3 92.4L567.0 85.4L642.7 77.0" stroke="#0000FF" stroke-width="1.45" fill="none"/>
<path d="M415.6 85.0L491.3 90.9L567.0 84.8L642.7 76.6" stroke="#FF0000" stroke-width="1.45" fill="none" stroke-dasharray="6 4.95"/>
<path d="M415.6 105.4L491.3 110.7L567.0 110.9L642.7 106.7" stroke="#0000FF" stroke-width="1.3" fill="none" stroke-dasharray="6 4.95"/>
<path d="M415.6 104.3L491.3 110.0L567.0 110.6L642.7 106.2" stroke="#FF0000" stroke-width="1.3" fill="none"/>
<path d="M415.6 104.3L491.3 110.0L567.0 110.6L642.7 106.2" stroke="#0000FF" stroke-width="1.45" fill="none"/>
<path d="M415.6 105.4L491.3 110.7L567.0 110.9L642.7 106.7" stroke="#FF0000" stroke-width="1.45" fill="none" stroke-dasharray="6 4.95"/>
<path d="M412.30 87.20L418.90 87.20M413.27 84.87L417.93 89.53M415.60 83.90L415.60 90.50M417.93 84.87L413.27 89.53" stroke="#0000FF" stroke-width="1.2" fill="none"/>
<path d="M412.30 85.00L418.90 85.00M413.27 82.67L417.93 87.33M415.60 81.70L415.60 88.30M417.93 82.67L413.27 87.33" stroke="#FF0000" stroke-width="1.45" fill="none"/>
<path d="M488.00 93.20L494.60 93.20M488.97 90.87L493.63 95.53M491.30 89.90L491.30 96.50M493.63 90.87L488.97 95.53" stroke="#0000FF" stroke-width="1.2" fill="none"/>
<path d="M488.00 90.90L494.60 90.90M488.97 88.57L493.63 93.23M491.30 87.60L491.30 94.20M493.63 88.57L488.97 93.23" stroke="#FF0000" stroke-width="1.45" fill="none"/>
<path d="M563.70 86.20L570.30 86.20M564.67 83.87L569.33 88.53M567.00 82.90L567.00 89.50M569.33 83.87L564.67 88.53" stroke="#0000FF" stroke-width="1.2" fill="none"/>
<path d="M563.70 84.80L570.30 84.80M564.67 82.47L569.33 87.13M567.00 81.50L567.00 88.10M569.33 82.47L564.67 87.13" stroke="#FF0000" stroke-width="1.45" fill="none"/>
<path d="M639.40 77.80L646.00 77.80M640.37 75.47L645.03 80.13M642.70 74.50L642.70 81.10M645.03 75.47L640.37 80.13" stroke="#0000FF" stroke-width="1.2" fill="none"/>
<path d="M639.40 76.60L646.00 76.60M640.37 74.27L645.03 78.93M642.70 73.30L642.70 79.90M645.03 74.27L640.37 78.93" stroke="#FF0000" stroke-width="1.45" fill="none"/>
<rect x="413.05" y="101.75" width="5.1" height="5.1" fill="none" stroke="#0000FF" stroke-width="1.3"/>
<rect x="413.05" y="102.85" width="5.1" height="5.1" fill="none" stroke="#FF0000" stroke-width="1.5"/>
<rect x="488.75" y="107.45" width="5.1" height="5.1" fill="none" stroke="#0000FF" stroke-width="1.3"/>
<rect x="488.75" y="108.15" width="5.1" height="5.1" fill="none" stroke="#FF0000" stroke-width="1.5"/>
<rect x="564.45" y="108.05" width="5.1" height="5.1" fill="none" stroke="#0000FF" stroke-width="1.3"/>
<rect x="564.45" y="108.35" width="5.1" height="5.1" fill="none" stroke="#FF0000" stroke-width="1.5"/>
<rect x="640.15" y="103.65" width="5.1" height="5.1" fill="none" stroke="#0000FF" stroke-width="1.3"/>
<rect x="640.15" y="104.15" width="5.1" height="5.1" fill="none" stroke="#FF0000" stroke-width="1.5"/>
<g transform="translate(340.3 126.9) rotate(-90)"><text x="0" y="0" font-size="15.5" font-style="italic" fill="#262626" transform="scale(1.08 1)">Z</text><text font-size="11.8" fill="#262626" transform="translate(11.6 -5.6) scale(1.08 1)">inf</text><text font-size="11.5" font-style="italic" fill="#262626" transform="translate(11.0 4.4) scale(1.15 1)">ij</text></g>
<rect x="321.4" y="280.5" width="230.2" height="33.2" fill="none" stroke="#404040" stroke-width="0.8"/>
<path d="M324.3 297.7h27.6" stroke="#0000FF" stroke-width="1.5" stroke-dasharray="5.5 5.45"/>
<text transform="translate(354.9 302.3) scale(1.05 1.0)" font-size="14.3" font-style="italic" fill="#262626">Z</text>
<text x="364.7" y="296.7" font-size="9.2" fill="#262626">inf</text>
<text transform="translate(363.8 305.2) scale(1.12 1.0)" font-size="9.2" font-style="italic" fill="#262626">xx</text>
<path d="M381.8 297.7h27.6" stroke="#FF0000" stroke-width="1.5"/>
<text transform="translate(412.4 302.3) scale(1.05 1.0)" font-size="14.3" font-style="italic" fill="#262626">Z</text>
<text x="422.2" y="296.7" font-size="9.2" fill="#262626">inf</text>
<text transform="translate(421.2 305.2) scale(1.12 1.0)" font-size="9.2" font-style="italic" fill="#262626">xy</text>
<path d="M439.2 297.7h27.6" stroke="#0000FF" stroke-width="1.5"/>
<text transform="translate(469.8 302.3) scale(1.05 1.0)" font-size="14.3" font-style="italic" fill="#262626">Z</text>
<text x="479.6" y="296.7" font-size="9.2" fill="#262626">inf</text>
<text transform="translate(478.7 305.2) scale(1.12 1.0)" font-size="9.2" font-style="italic" fill="#262626">yx</text>
<path d="M496.7 297.7h27.6" stroke="#FF0000" stroke-width="1.5" stroke-dasharray="5.5 5.45"/>
<text transform="translate(527.2 302.3) scale(1.05 1.0)" font-size="14.3" font-style="italic" fill="#262626">Z</text>
<text x="537.0" y="296.7" font-size="9.2" fill="#262626">inf</text>
<text transform="translate(536.1 305.2) scale(1.12 1.0)" font-size="9.2" font-style="italic" fill="#262626">yy</text>
<rect x="555.8" y="280.5" width="124.8" height="33.2" fill="none" stroke="#404040" stroke-width="0.8"/>
<path d="M569.95 297.90L576.65 297.90M570.93 295.53L575.67 300.27M573.30 294.55L573.30 301.25M575.67 295.53L570.93 300.27" stroke="#000" stroke-width="1.5" fill="none"/>
<text transform="translate(589.8 302.8) scale(0.9 1.0)" font-size="14.2" fill="#111">0 km</text>
<rect x="633.35" y="295.55" width="4.7" height="4.7" fill="none" stroke="#000" stroke-width="1.5"/>
<text transform="translate(652.0 302.8) scale(0.9 1.0)" font-size="14.2" fill="#111">5 km</text>
<rect x="377.7" y="328.7" width="302.8" height="220.7" fill="none" stroke="#404040" stroke-width="0.8"/>
<path d="M415.6 328.7v6M415.6 549.4v-6M491.3 328.7v6M491.3 549.4v-6M567.0 328.7v6M567.0 549.4v-6M642.7 328.7v6M642.7 549.4v-6M377.7 384.1h6M680.45 384.1h-6M377.7 494.0h6M680.45 494.0h-6" stroke="#404040" stroke-width="0.8" fill="none"/>
<text transform="translate(415.6 568.0) scale(0.89 1.0)" font-size="15.6" text-anchor="middle" fill="#262626">.5</text>
<text transform="translate(491.3 568.0) scale(0.89 1.0)" font-size="15.6" text-anchor="middle" fill="#262626">5</text>
<text transform="translate(567.0 568.0) scale(0.89 1.0)" font-size="15.6" text-anchor="middle" fill="#262626">500</text>
<text transform="translate(642.7 568.0) scale(0.89 1.0)" font-size="15.6" text-anchor="middle" fill="#262626">5000</text>
<text transform="translate(372.7 392.4) scale(0.89 1.0)" font-size="15.6" text-anchor="end" fill="#262626">10<tspan font-size="12.6" dy="-7.2">0</tspan></text>
<text transform="translate(372.7 502.3) scale(0.89 1.0)" font-size="15.6" text-anchor="end" fill="#262626">10<tspan font-size="12.6" dy="-7.2">-2</tspan></text>
<text transform="translate(521.9 584.9) scale(1.12 1.0)" font-size="15.5" font-style="italic" fill="#262626">ρ</text>
<text transform="translate(529.9 586.6) scale(1.35 1.0)" font-size="10.8" font-style="italic" fill="#262626">x</text>
<path d="M377.7 400.5H680.45" stroke="#333" stroke-width="1.2" stroke-dasharray="6 4.95" fill="none"/>
<path d="M415.6 374.7L491.3 381.7L567.0 386.6L642.7 375.5" stroke="#000" stroke-width="1.45" fill="none" stroke-dasharray="5.3 5.65" stroke-dashoffset="-5.65"/>
<path d="M415.6 374.7L491.3 381.7L567.0 386.6L642.7 375.5" stroke="#a4a4a4" stroke-width="1.4" fill="none" stroke-dasharray="5.65 5.3"/>
<path d="M415.6 397.9L491.3 406.1L567.0 407.3L642.7 401.9" stroke="#000" stroke-width="1.45" fill="none" stroke-dasharray="5.3 5.65" stroke-dashoffset="-5.65"/>
<path d="M415.6 397.9L491.3 406.1L567.0 407.3L642.7 401.9" stroke="#a4a4a4" stroke-width="1.4" fill="none" stroke-dasharray="5.65 5.3"/>
<path d="M412.20 374.70L419.00 374.70M413.20 372.30L418.00 377.10M415.60 371.30L415.60 378.10M418.00 372.30L413.20 377.10" stroke="#808080" stroke-width="1.1" fill="none"/>
<path d="M487.90 381.70L494.70 381.70M488.90 379.30L493.70 384.10M491.30 378.30L491.30 385.10M493.70 379.30L488.90 384.10" stroke="#808080" stroke-width="1.1" fill="none"/>
<path d="M563.60 386.60L570.40 386.60M564.60 384.20L569.40 389.00M567.00 383.20L567.00 390.00M569.40 384.20L564.60 389.00" stroke="#808080" stroke-width="1.1" fill="none"/>
<path d="M639.30 375.50L646.10 375.50M640.30 373.10L645.10 377.90M642.70 372.10L642.70 378.90M645.10 373.10L640.30 377.90" stroke="#808080" stroke-width="1.1" fill="none"/>
<rect x="412.90" y="395.20" width="5.4" height="5.4" fill="none" stroke="#808080" stroke-width="1.1"/>
<rect x="488.60" y="403.40" width="5.4" height="5.4" fill="none" stroke="#808080" stroke-width="1.1"/>
<rect x="564.30" y="404.60" width="5.4" height="5.4" fill="none" stroke="#808080" stroke-width="1.1"/>
<rect x="640.00" y="399.20" width="5.4" height="5.4" fill="none" stroke="#808080" stroke-width="1.1"/>
<g transform="translate(340.3 451.9) rotate(-90)"><text x="0" y="0" font-size="15.5" font-style="italic" fill="#262626" transform="scale(1.15 1)">T</text><text font-size="11.8" fill="#262626" transform="translate(11.9 -5.6) scale(1.08 1)">inf</text><text font-size="11.5" font-style="italic" fill="#262626" transform="translate(9.4 4.4) scale(1.15 1)">i</text></g>
<rect x="424.5" y="604.8" width="127.0" height="34.1" fill="none" stroke="#404040" stroke-width="0.8"/>
<path d="M427.6 621.8h27.2" stroke="#000" stroke-width="1.5"/>
<path d="M490.6 621.9h27.6" stroke="#808080" stroke-width="1.1" stroke-dasharray="5.5 5.45"/>
<text x="456.9" y="626.3" font-size="14.3" font-style="italic" fill="#262626">T</text>
<text transform="translate(466.3 620.8) scale(1.06 1.0)" font-size="9.5" fill="#262626">edge</text>
<text transform="translate(464.1 629.8) scale(1.12 1.0)" font-size="9.2" font-style="italic" fill="#262626">x</text>
<text x="521.2" y="626.3" font-size="14.3" font-style="italic" fill="#262626">T</text>
<text transform="translate(530.6 620.8) scale(1.06 1.0)" font-size="9.5" fill="#262626">edge</text>
<text transform="translate(528.4 629.8) scale(1.12 1.0)" font-size="9.2" font-style="italic" fill="#262626">y</text>
<rect x="555.8" y="604.8" width="124.8" height="34.0" fill="none" stroke="#404040" stroke-width="0.8"/>
<path d="M569.95 622.20L576.65 622.20M570.93 619.83L575.67 624.57M573.30 618.85L573.30 625.55M575.67 619.83L570.93 624.57" stroke="#000" stroke-width="1.5" fill="none"/>
<text transform="translate(589.8 627.1) scale(0.9 1.0)" font-size="14.2" fill="#111">0 km</text>
<rect x="633.35" y="619.85" width="4.7" height="4.7" fill="none" stroke="#000" stroke-width="1.5"/>
<text transform="translate(652.0 627.1) scale(0.9 1.0)" font-size="14.2" fill="#111">5 km</text>
</g>
</svg>
</body></html>
